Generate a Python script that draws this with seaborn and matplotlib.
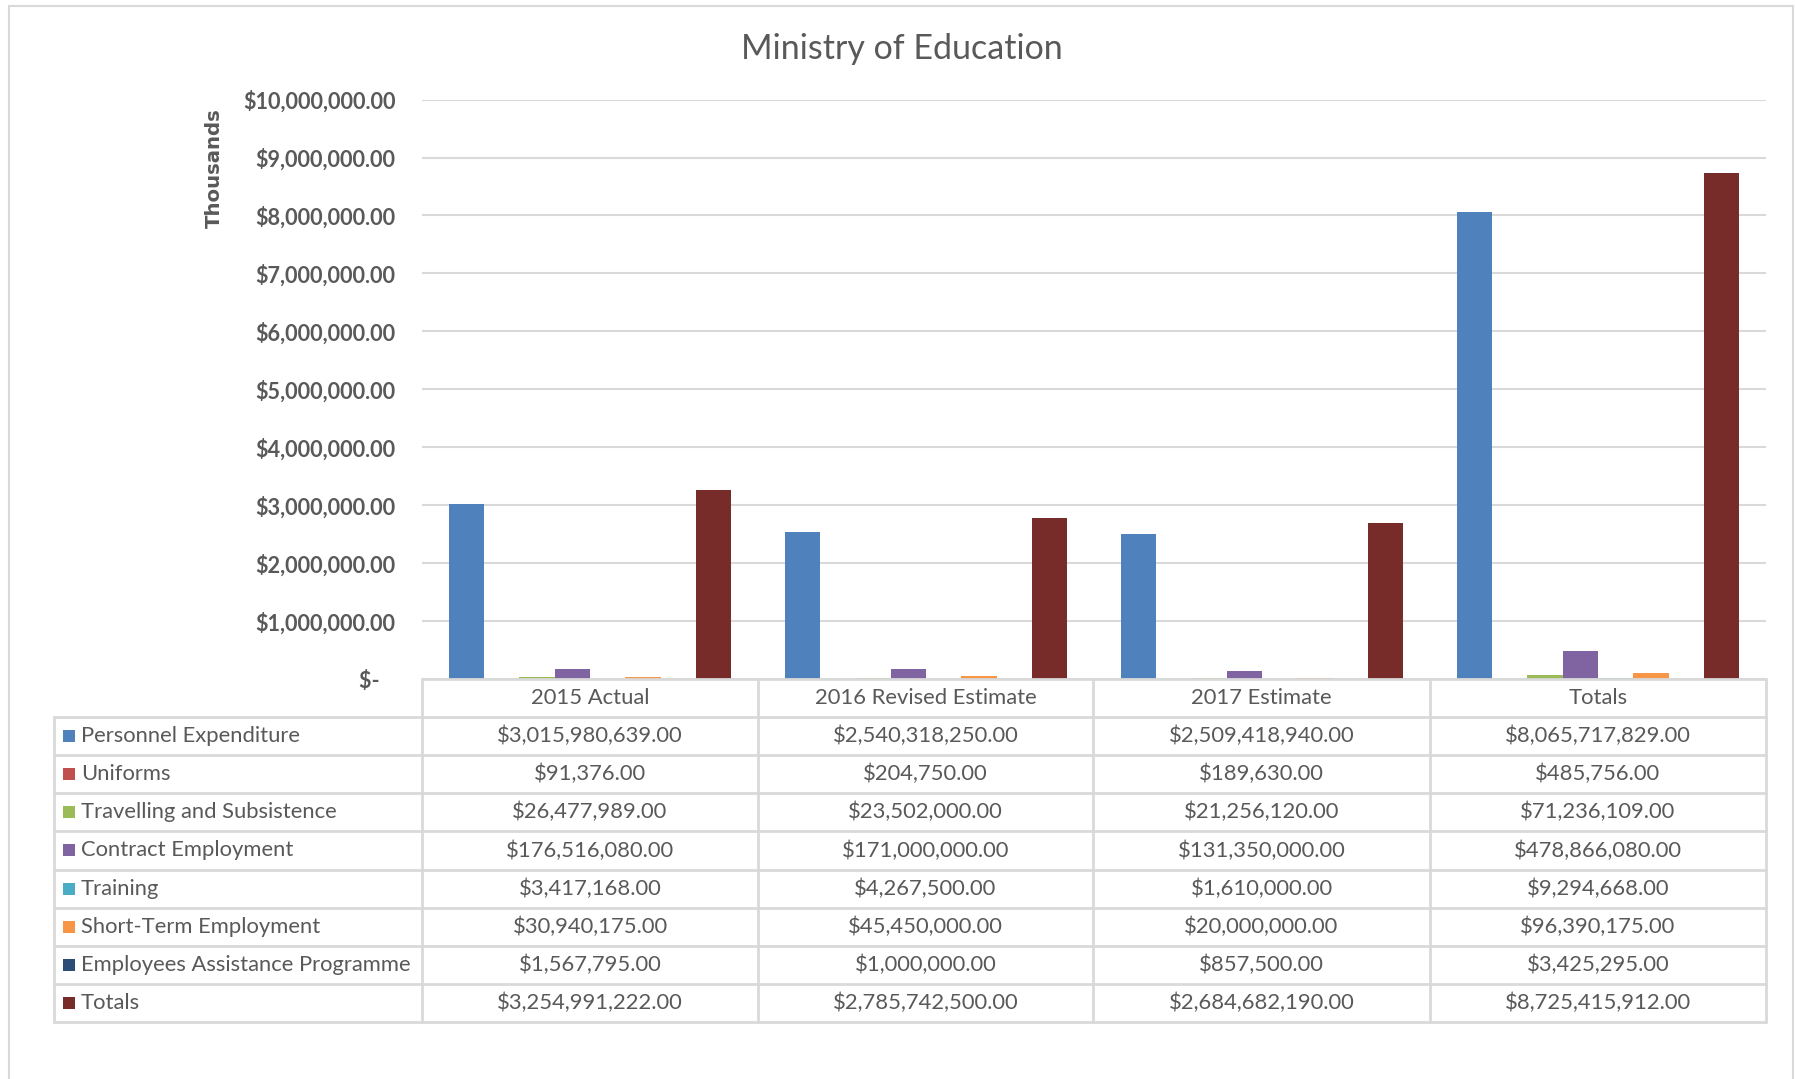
import matplotlib
matplotlib.use("Agg")
import matplotlib.pyplot as plt
from matplotlib.patches import Rectangle
from matplotlib.lines import Line2D
from matplotlib.ticker import FuncFormatter, MultipleLocator
import seaborn as sns
import pandas as pd

# ---------------- data ----------------
categories = ["2015 Actual", "2016 Revised Estimate", "2017 Estimate", "Totals"]
series_names = ["Personnel Expenditure", "Uniforms", "Travelling and Subsistence",
                "Contract Employment", "Training", "Short-Term Employment",
                "Employees Assistance Programme", "Totals"]
personnel = [3015980639.00, 2540318250.00, 2509418940.00, 8065717829.00]
uniforms = [91376.00, 204750.00, 189630.00, 485756.00]
travelling = [26477989.00, 23502000.00, 21256120.00, 71236109.00]
contract = [176516080.00, 171000000.00, 131350000.00, 478866080.00]
training = [3417168.00, 4267500.00, 1610000.00, 9294668.00]
short_term = [30940175.00, 45450000.00, 20000000.00, 96390175.00]
eap = [1567795.00, 1000000.00, 857500.00, 3425295.00]
totals = [3254991222.00, 2785742500.00, 2684682190.00, 8725415912.00]
series_values = [personnel, uniforms, travelling, contract, training, short_term, eap, totals]
colors = ["#4F81BD", "#C0504D", "#9BBB59", "#8064A2", "#4BACC6", "#F79646", "#2C4D75", "#772C2A"]
title = "Ministry of Education"
y_label = "Thousands"

rows = []
for name, vals in zip(series_names, series_values):
    for cat, v in zip(categories, vals):
        rows.append({"category": cat, "series": name, "value": v / 1000.0})
df = pd.DataFrame(rows)

# ---------------- figure ----------------
W, H = 1795, 1079
fig = plt.figure(figsize=(W / 100, H / 100), dpi=100)
sns.set_style("white")
FONT = ["Lato", "DejaVu Sans"]
plt.rcParams["font.family"] = FONT
TXT = "#595959"
GRID = "#D9D9D9"

def fx(px):
    return px / W

def fy(py):
    return 1 - py / H

x_left, x_right = 422, 1766
y_top, y_zero = 99.6, 679
ax = fig.add_axes([fx(x_left), fy(y_zero), fx(x_right) - fx(x_left), (y_zero - y_top) / H])

palette = dict(zip(series_names, colors))
sns.barplot(data=df, x="category", y="value", hue="series", order=categories,
            hue_order=series_names, palette=palette, width=0.84, gap=0,
            linewidth=0, saturation=1, ax=ax, legend=False)
ax.set_xlim(-0.5, len(categories) - 0.5)
ax.set_ylim(0, 10_000_000)
ax.yaxis.set_major_locator(MultipleLocator(1_000_000))
ax.yaxis.set_major_formatter(FuncFormatter(lambda v, p: "$-   " if v == 0 else f"${v:,.2f}"))
ax.grid(axis="y", color=GRID, linewidth=1.5)
ax.set_axisbelow(True)
for s in ax.spines.values():
    s.set_visible(False)
ax.set_xticks([])
ax.set_xlabel("")
ax.set_ylabel("")
ax.tick_params(axis="y", length=0, pad=19, labelsize=15.6, labelcolor=TXT)
for lab in ax.get_yticklabels():
    lab.set_fontweight("bold")

# title and axis label
fig.text(fx(902), fy(49), title, ha="center", va="center", fontsize=24.5, color=TXT)
fig.text(fx(214), fy(168), y_label, ha="center", va="center", rotation=90,
         fontsize=14.2, fontweight="bold", color=TXT, family=["DejaVu Sans"])

# chart border (bottom edge lies outside the picture)
fig.patches.append(Rectangle((fx(9), fy(1090)), fx(1793) - fx(9), fy(6) - fy(1090),
                             transform=fig.transFigure, fill=False, edgecolor=GRID, linewidth=1.5))

# ---------------- data table ----------------
col_edges = [422, 758, 1093, 1430, 1766]
tab_left = 54
row_edges = [679 + i * 38.1 for i in range(10)]
lw = 2.0

def hline(x0, x1, y):
    fig.add_artist(Line2D([fx(x0), fx(x1)], [fy(y), fy(y)], color=GRID, linewidth=lw))

def vline(x, y0, y1):
    fig.add_artist(Line2D([fx(x), fx(x)], [fy(y0), fy(y1)], color=GRID, linewidth=lw))

hline(col_edges[0], col_edges[-1], row_edges[0])
for y in row_edges[1:]:
    hline(tab_left, col_edges[-1], y)
for x in col_edges:
    vline(x, row_edges[0], row_edges[-1])
vline(tab_left, row_edges[1], row_edges[-1])

fs = 15.8
for j, cat in enumerate(categories):
    cx = (col_edges[j] + col_edges[j + 1]) / 2
    cy = (row_edges[0] + row_edges[1]) / 2
    fig.text(fx(cx), fy(cy), cat, ha="center", va="center", fontsize=fs, color=TXT)

for i, (name, vals, col) in enumerate(zip(series_names, series_values, colors)):
    cy = (row_edges[i + 1] + row_edges[i + 2]) / 2
    fig.patches.append(Rectangle((fx(63), fy(cy + 6)), fx(12), 12 / H,
                                 transform=fig.transFigure, facecolor=col, edgecolor="none"))
    fig.text(fx(81), fy(cy), name, ha="left", va="center", fontsize=fs, color=TXT)
    for j, v in enumerate(vals):
        cx = (col_edges[j] + col_edges[j + 1]) / 2
        fig.text(fx(cx), fy(cy), f"${v:,.2f}", ha="center", va="center", fontsize=fs, color=TXT)

fig.savefig("out.png", dpi=100, facecolor="white")
